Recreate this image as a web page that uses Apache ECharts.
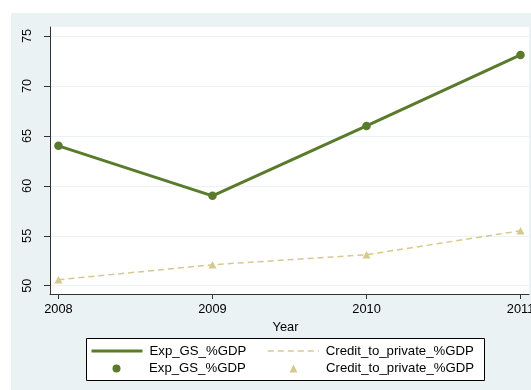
<!DOCTYPE html>
<html>
<head>
<meta charset="utf-8">
<script src="https://cdn.jsdelivr.net/npm/echarts@6/dist/echarts.min.js"></script>
<style>
  html, body { margin: 0; padding: 0; background: #fff; }
  #chart { width: 531px; height: 390px; }
</style>
</head>
<body>
<div id="chart"></div>
<script>
// Yearly values, 2008-2011
const years = [2008, 2009, 2010, 2011];
const expGS = [64, 59, 66, 73.1];
const creditPrivate = [50.6, 52.1, 53.1, 55.5];

// Axis ticks
const xTicks = [2008, 2009, 2010, 2011];
const yTicks = [50, 55, 60, 65, 70, 75];

const expName = 'Exp_GS_%GDP';
const creditName = 'Credit_to_private_%GDP';

const GREEN = '#5a7b2c';
const KHAKI = '#d5c98e';
const PANEL = '#eaf2f3';
const AXIS = '#333';
const FONT = '"Liberation Sans", Arial, sans-serif';

const toPoints = (vals) => years.map((y, i) => [y, vals[i]]);

// One legend block per key entry, so the 2x2 key lines up in columns.
// Row 1 shows only the line of each series, row 2 only its marker.
function legendEntry(left, centerY, name, showLine) {
  return {
    data: [name],
    left: left,
    top: centerY - 8,
    padding: 0,
    orient: 'horizontal',
    selectedMode: false,
    itemWidth: 51,
    itemHeight: 10,
    itemStyle: { opacity: showLine ? 0 : 1 },
    lineStyle: showLine
      ? (name === expName ? { width: 3, type: 'solid' } : { width: 1.5, type: [6, 4] })
      : { opacity: 0 },
    textStyle: {
      fontFamily: FONT, fontSize: 13.2, color: '#000',
      lineHeight: 16, padding: [0, 0, 0, 2]
    }
  };
}

const chart = echarts.init(document.getElementById('chart'), null, { renderer: 'canvas' });

chart.setOption({
  backgroundColor: '#fff',
  animation: false,
  textStyle: { fontFamily: FONT },
  graphic: [
    {
      type: 'rect', z: -1, silent: true,
      shape: { x: 11, y: 13, width: 520, height: 377 },
      style: { fill: PANEL }
    },
    {
      type: 'rect', z: 3, silent: true,
      shape: { x: 86.5, y: 338.5, width: 398, height: 42 },
      style: { fill: '#fff', stroke: '#000', lineWidth: 1 }
    }
  ],
  grid: {
    left: 50, right: 2, top: 27, bottom: 96,
    outerBoundsMode: 'none',
    containLabel: false,
    show: true, backgroundColor: '#fff', borderWidth: 0
  },
  xAxis: {
    type: 'value',
    min: 2007.945, max: 2011.055,
    name: 'Year',
    nameLocation: 'middle',
    nameGap: 21.5,
    nameTextStyle: { fontFamily: FONT, fontSize: 12.8, color: '#000', padding: [0, 8, 0, 0] },
    axisLine: { show: true, lineStyle: { color: AXIS, width: 1 } },
    axisTick: { show: true, length: 5, customValues: xTicks, lineStyle: { color: AXIS } },
    axisLabel: {
      customValues: xTicks, margin: 9,
      fontFamily: FONT, fontSize: 12.8, color: '#000',
      formatter: (v) => String(v)
    },
    splitLine: { show: false }
  },
  yAxis: {
    type: 'value',
    min: 49.17, max: 75.9,
    axisLine: { show: true, lineStyle: { color: AXIS, width: 1 } },
    axisTick: { show: true, length: 6, customValues: yTicks, lineStyle: { color: AXIS } },
    axisLabel: {
      show: true, rotate: 89.99, margin: 23,
      align: 'center', verticalAlign: 'middle',
      customValues: yTicks,
      fontFamily: FONT, fontSize: 12.8, color: '#000'
    },
    splitLine: { show: true, lineStyle: { color: PANEL, width: 1 } }
  },
  legend: [
    legendEntry(90, 351, expName, true),
    legendEntry(267, 351, creditName, true),
    legendEntry(90, 368.5, expName, false),
    legendEntry(267, 368.5, creditName, false)
  ],
  series: [
    {
      name: expName, type: 'line', data: toPoints(expGS),
      symbol: 'circle', symbolSize: 8.5, showSymbol: true,
      lineStyle: { color: GREEN, width: 3 },
      itemStyle: { color: GREEN }
    },
    {
      name: creditName, type: 'line', data: toPoints(creditPrivate),
      symbol: 'triangle', symbolSize: [8, 7.5], showSymbol: true,
      lineStyle: { color: KHAKI, width: 1.5, type: [6, 4] },
      itemStyle: { color: KHAKI }
    }
  ]
});
</script>
</body>
</html>
